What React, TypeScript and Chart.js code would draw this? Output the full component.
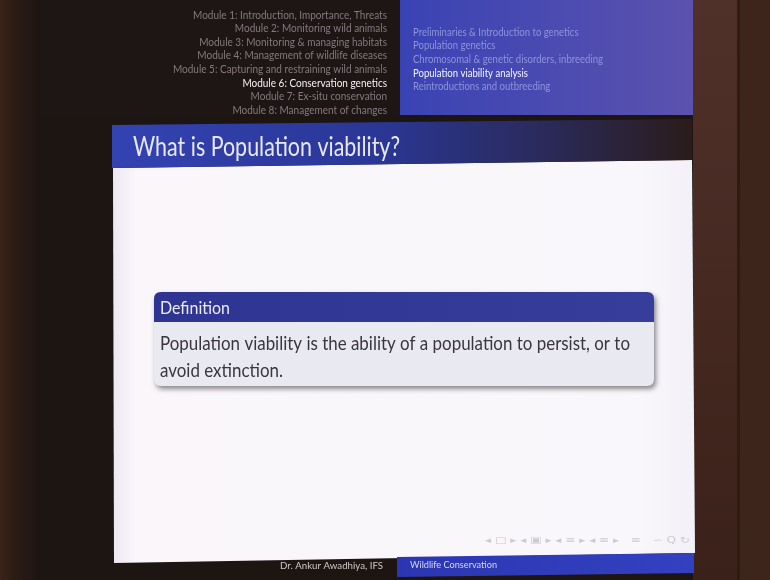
import React, { useEffect, useRef } from "react";
import { Chart, registerables } from "chart.js";

Chart.register(...registerables);

// ---- slide content ----
const moduleItems = [
  "Module 1: Introduction, Importance, Threats",
  "Module 2: Monitoring wild animals",
  "Module 3: Monitoring & managing habitats",
  "Module 4: Management of wildlife diseases",
  "Module 5: Capturing and restraining wild animals",
  "Module 6: Conservation genetics",
  "Module 7: Ex-situ conservation",
  "Module 8: Management of changes",
];
const activeModule = 5;
const sectionItems = [
  "Preliminaries & Introduction to genetics",
  "Population genetics",
  "Chromosomal & genetic disorders, inbreeding",
  "Population viability analysis",
  "Reintroductions and outbreeding",
];
const activeSection = 3;
const slideTitle = "What is Population viability?";
const blockTitle = "Definition";
const blockLines = [
  "Population viability is the ability of a population to persist, or to",
  "avoid extinction.",
];
const footerAuthor = "Dr. Ankur Awadhiya, IFS";
const footerTitle = "Wildlife Conservation";
const navSymbols = "◂ □ ▸ ◂ ▣ ▸ ◂ ≡ ▸ ◂ ≡ ▸   ≡   ∽ Q ↻";

const FONT = "Lato, 'Open Sans', 'DejaVu Sans', sans-serif";

type Ctx = CanvasRenderingContext2D;

function measure(ctx: Ctx, s: string, font: string) {
  ctx.save();
  ctx.font = font;
  const w = ctx.measureText(s).width;
  ctx.restore();
  return w;
}

function drawText(
  ctx: Ctx,
  s: string,
  x: number,
  y: number,
  font: string,
  color: string,
  sx: number,
  align: CanvasTextAlign = "left"
) {
  ctx.save();
  ctx.font = font;
  ctx.fillStyle = color;
  ctx.textBaseline = "middle";
  ctx.textAlign = align;
  ctx.filter = "blur(0.35px)";
  ctx.translate(x, y);
  ctx.scale(sx, 1);
  ctx.fillText(s, 0, 0);
  ctx.restore();
}

function poly(ctx: Ctx, pts: number[][], fill: string | CanvasGradient) {
  ctx.beginPath();
  ctx.moveTo(pts[0][0], pts[0][1]);
  for (let i = 1; i < pts.length; i++) ctx.lineTo(pts[i][0], pts[i][1]);
  ctx.closePath();
  ctx.fillStyle = fill;
  ctx.fill();
}

function roundRectPath(ctx: Ctx, x: number, y: number, w: number, h: number, r: number) {
  ctx.beginPath();
  ctx.moveTo(x + r, y);
  ctx.lineTo(x + w - r, y);
  ctx.quadraticCurveTo(x + w, y, x + w, y + r);
  ctx.lineTo(x + w, y + h - r);
  ctx.quadraticCurveTo(x + w, y + h, x + w - r, y + h);
  ctx.lineTo(x + r, y + h);
  ctx.quadraticCurveTo(x, y + h, x, y + h - r);
  ctx.lineTo(x, y + r);
  ctx.quadraticCurveTo(x, y, x + r, y);
  ctx.closePath();
}

const slidePlugin = {
  id: "slide",
  beforeDraw(chart: any) {
    const ctx: Ctx = chart.ctx;
    const W = chart.width;
    const H = chart.height;
    ctx.save();

    // room / screen background
    ctx.fillStyle = "#1c1512";
    ctx.fillRect(0, 0, W, H);
    const lg = ctx.createLinearGradient(0, 0, 40, 0);
    lg.addColorStop(0, "#3b2419");
    lg.addColorStop(0.3, "#2e1c16");
    lg.addColorStop(1, "#1c1512");
    ctx.fillStyle = lg;
    ctx.fillRect(0, 0, 40, H);
    const rg = ctx.createLinearGradient(0, 0, 0, H);
    rg.addColorStop(0, "#50312a");
    rg.addColorStop(1, "#3a2119");
    ctx.fillStyle = rg;
    ctx.fillRect(693, 0, W - 693, H);
    ctx.fillStyle = "#2e1b14";
    ctx.fillRect(737, 0, 3, H);
    ctx.fillStyle = "#3e251c";
    ctx.fillRect(740, 0, W - 740, H);

    // header: left dark, right blue
    ctx.fillStyle = "#1d1614";
    ctx.fillRect(40, 0, 360, 115);
    const hg = ctx.createLinearGradient(400, 0, 693, 0);
    hg.addColorStop(0, "#3a43b4");
    hg.addColorStop(1, "#5b52ae");
    ctx.fillStyle = hg;
    ctx.fillRect(400, 0, 293, 115);

    // module list
    const modFont = `11px ${FONT}`;
    const modSx = 194 / measure(ctx, moduleItems[0], modFont);
    moduleItems.forEach((m, i) => {
      drawText(ctx, m, 387, 15 + i * 13.6, modFont, i === activeModule ? "#f4f2f4" : "#85797f", modSx, "right");
    });
    // section list
    const secFont = `11px ${FONT}`;
    const secSx = 190 / measure(ctx, sectionItems[2], secFont);
    sectionItems.forEach((s, i) => {
      drawText(ctx, s, 413, 32 + i * 13.7, secFont, i === activeSection ? "#f6f6ff" : "#8e93dc", secSx, "left");
    });

    // content white area (slightly tilted screen)
    const cg = ctx.createLinearGradient(113, 0, 695, 0);
    cg.addColorStop(0, "#eee8f2");
    cg.addColorStop(0.04, "#faf6fa");
    cg.addColorStop(0.9, "#f9f7fb");
    cg.addColorStop(1, "#f3f1f8");
    poly(ctx, [[113, 168], [692, 160], [695, 553], [114, 563]], cg);

    // title bar
    const tg = ctx.createLinearGradient(112, 0, 692, 0);
    tg.addColorStop(0, "#3343b2");
    tg.addColorStop(0.45, "#2a3796");
    tg.addColorStop(0.75, "#2a2a5a");
    tg.addColorStop(1, "#2a1c1a");
    poly(ctx, [[112, 125], [692, 119], [692, 160], [112, 168]], tg);
    const tFont = `27px ${FONT}`;
    drawText(ctx, slideTitle, 133, 147, tFont, "#e8e8f8", 267 / measure(ctx, slideTitle, tFont));

    // definition block
    const bx = 154, by = 292, bw = 500, bh = 94, hh = 30;
    ctx.save();
    ctx.shadowColor = "rgba(0,0,0,0.45)";
    ctx.shadowBlur = 5;
    ctx.shadowOffsetX = 2;
    ctx.shadowOffsetY = 3;
    roundRectPath(ctx, bx, by, bw, bh, 7);
    ctx.fillStyle = "#e9e9f1";
    ctx.fill();
    ctx.restore();
    ctx.save();
    roundRectPath(ctx, bx, by, bw, bh, 7);
    ctx.clip();
    const bg = ctx.createLinearGradient(bx, 0, bx + bw, 0);
    bg.addColorStop(0, "#2e3491");
    bg.addColorStop(1, "#373d9a");
    ctx.fillStyle = bg;
    ctx.fillRect(bx, by, bw, hh);
    ctx.restore();
    const dFont = `17px ${FONT}`;
    drawText(ctx, blockTitle, 160, 309, dFont, "#ececf8", 70 / measure(ctx, blockTitle, dFont));
    const bFont = `20px ${FONT}`;
    const bSx = 470 / measure(ctx, blockLines[0], bFont);
    blockLines.forEach((l, i) => {
      drawText(ctx, l, 160, 344 + i * 27, bFont, "#3a353e", bSx);
    });

    // navigation symbols
    const nFont = `9px 'DejaVu Sans', sans-serif`;
    drawText(ctx, navSymbols, 485, 541, nFont, "#cdc9d2", 205 / measure(ctx, navSymbols, nFont));

    // footer
    const fg = ctx.createLinearGradient(397, 0, 694, 0);
    fg.addColorStop(0, "#2c36b2");
    fg.addColorStop(1, "#3341c0");
    poly(ctx, [[397, 557], [694, 553], [694, 573], [397, 577]], fg);
    const fFont = `10px ${FONT}`;
    drawText(ctx, footerAuthor, 383, 566, fFont, "#cfc8c8", 103 / measure(ctx, footerAuthor, fFont), "right");
    drawText(ctx, footerTitle, 410, 565, fFont, "#d6d8f6", 87 / measure(ctx, footerTitle, fFont));

    ctx.restore();
  },
};

export default function App() {
  const canvasRef = useRef<HTMLCanvasElement | null>(null);
  useEffect(() => {
    if (!canvasRef.current) return;
    const chart = new Chart(canvasRef.current, {
      type: "scatter",
      data: { datasets: [] },
      options: {
        animation: false,
        responsive: false,
        events: [],
        layout: { padding: 0 },
        plugins: { legend: { display: false }, tooltip: { enabled: false }, title: { display: false } },
        scales: { x: { display: false }, y: { display: false } },
      },
      plugins: [slidePlugin],
    } as any);
    return () => chart.destroy();
  }, []);
  return (
    <div style={{ position: "fixed", left: 0, top: 0, width: 770, height: 580, background: "#1c1512" }}>
      <canvas ref={canvasRef} width={770} height={580} style={{ display: "block" }} />
    </div>
  );
}
